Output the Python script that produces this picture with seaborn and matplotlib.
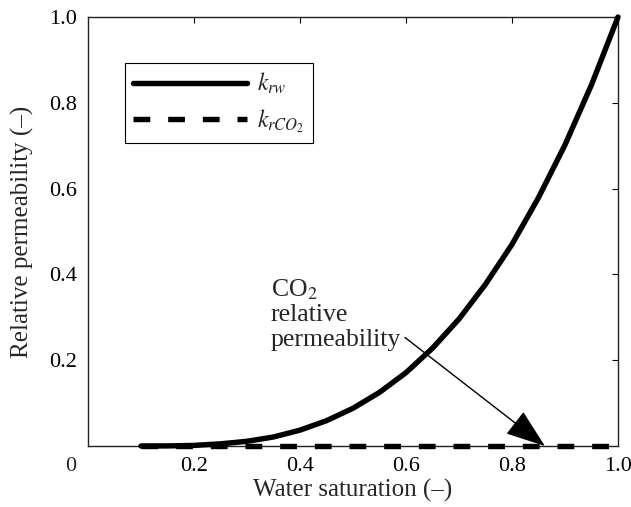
import matplotlib
matplotlib.use("Agg")
import matplotlib.pyplot as plt
import seaborn as sns
import pandas as pd

# Data
sw = [0.10, 0.15, 0.20, 0.25, 0.30, 0.35, 0.40, 0.45, 0.50, 0.55,
      0.60, 0.65, 0.70, 0.75, 0.80, 0.85, 0.90, 0.95, 1.00]
krw = [0.0, 0.0002, 0.0014, 0.005, 0.011, 0.021, 0.037, 0.059, 0.088, 0.125,
       0.171, 0.228, 0.296, 0.377, 0.470, 0.579, 0.702, 0.842, 1.0]
sw_co2 = [0.10, 1.00]
kr_co2 = [0.0, 0.0]
xticks = [0.2, 0.4, 0.6, 0.8, 1.0]
yticks = [0.2, 0.4, 0.6, 0.8, 1.0]
label_w = r"$k_{rw}$"
label_c = r"$k_{rCO_2}$"

sns.set_theme(style="white")
plt.rcParams["font.family"] = ["Liberation Serif", "DejaVu Serif"]
plt.rcParams["mathtext.fontset"] = "stix"

fig = plt.figure(figsize=(6.31, 5.07), dpi=100)
ax = fig.add_axes([88/631, 1-446/507, 530/631, 429/507])

df_w = pd.DataFrame({"sw": sw, "kr": krw})
df_c = pd.DataFrame({"sw": sw_co2, "kr": kr_co2})

sns.lineplot(data=df_w, x="sw", y="kr", ax=ax, color="black", lw=3.9,
             label=label_w, clip_on=False, zorder=3)
sns.lineplot(data=df_c, x="sw", y="kr", ax=ax, color="black", lw=3.9,
             label=label_c, clip_on=False, zorder=3)
ax.lines[1].set_dashes((3.1, 3.3))

ax.set_xlim(0, 1)
ax.set_ylim(0, 1)
ax.set_xticks(xticks)
ax.set_yticks(yticks)
ax.set_xticklabels([f"{v:.1f}" for v in xticks])
ax.set_yticklabels([f"{v:.1f}" for v in yticks])
ax.tick_params(direction="in", length=4, width=0.8, top=True, right=True,
               labelsize=16, pad=8, colors="black")
for s in ax.spines.values():
    s.set_color("#222222")
    s.set_linewidth(1.0)
ax.text(-0.032, -0.025, "0", transform=ax.transAxes, ha="center", va="top",
        fontsize=16)

ax.set_xlabel("Water saturation (\u2013)", fontsize=18, labelpad=2)
ax.set_ylabel("Relative permeability (\u2013)", fontsize=18, labelpad=11)

ax.annotate("", xy=(0.862, 0.0), xytext=(0.598, 0.253),
            arrowprops=dict(arrowstyle="-|>,head_length=1.8,head_width=0.65",
                            lw=1.0, color="black", mutation_scale=14,
                            shrinkA=0, shrinkB=0), zorder=4)
ax.text(0.345, 0.233, "CO$_2$\nrelative\npermeability", ha="left",
        va="baseline", fontsize=18.5, linespacing=1.15)

leg = ax.legend(loc="upper left", bbox_to_anchor=(0.07, 0.893), borderaxespad=0,
                fontsize=17, handlelength=4.8, handletextpad=0.45,
                labelspacing=0.45, borderpad=0.35, fancybox=False,
                edgecolor="black", framealpha=1)
leg.get_frame().set_linewidth(0.8)

fig.savefig("out.png", dpi=100)
